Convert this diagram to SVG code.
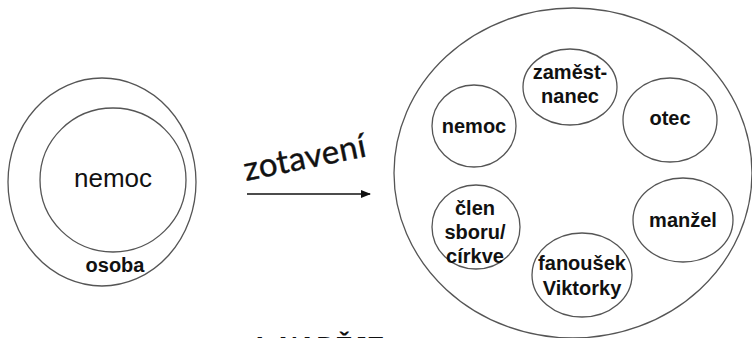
<svg xmlns="http://www.w3.org/2000/svg" width="752" height="338" viewBox="0 0 752 338">
<style>
.c{fill:none;stroke:#555;stroke-width:1.3}
.b{font-family:"Liberation Sans",Arial,sans-serif;font-weight:bold;font-size:20px;fill:#111;text-anchor:middle}
.r{font-family:"Liberation Sans",Arial,sans-serif;font-size:26px;fill:#111;text-anchor:middle}
</style>
<defs>
<marker id="ah" markerWidth="10" markerHeight="8" refX="9" refY="4" orient="auto" markerUnits="userSpaceOnUse">
<path d="M0,0 L10,4 L0,8 Z" fill="#111"/>
</marker>
</defs>
<rect width="752" height="338" fill="#fff"/>
<g id="osoba">
<ellipse class="c" cx="102" cy="182" rx="94" ry="104"/>
<text class="b" x="115" y="272">osoba</text>
</g>
<g id="nemoc-left">
<ellipse class="c" cx="113" cy="180" rx="73" ry="72"/>
<text class="r" x="113" y="187">nemoc</text>
</g>
<g id="connectors">
<line x1="247" y1="194" x2="370" y2="194" stroke="#111" stroke-width="1.3" marker-end="url(#ah)"/>
</g>
<text x="246" y="181" transform="rotate(-11.5 246 181)" font-family="Lato,'Liberation Sans',Arial,sans-serif" font-size="33" fill="#111" stroke="#111" stroke-width="0.4" textLength="124" lengthAdjust="spacing">zotavení</text>
<g id="celek">
<ellipse class="c" cx="573" cy="173" rx="179" ry="165"/>
</g>
<g id="zamestnanec">
<ellipse class="c" cx="570" cy="87" rx="47" ry="38"/>
<text class="b" x="570" y="79">zaměst-</text>
<text class="b" x="570" y="103">nanec</text>
</g>
<g id="otec">
<ellipse class="c" cx="670" cy="120" rx="47" ry="42"/>
<text class="b" x="670" y="125">otec</text>
</g>
<g id="nemoc">
<ellipse class="c" cx="474" cy="126" rx="42" ry="41"/>
<text class="b" x="474" y="133">nemoc</text>
</g>
<g id="clen">
<ellipse class="c" cx="476" cy="227" rx="44" ry="42"/>
<text class="b" x="475" y="215">člen</text>
<text class="b" x="475" y="239">sboru/</text>
<text class="b" x="475" y="263">církve</text>
</g>
<g id="manzel">
<ellipse class="c" cx="683" cy="220" rx="50" ry="42"/>
<text class="b" x="683" y="227">manžel</text>
</g>
<g id="fanousek">
<ellipse class="c" cx="582" cy="275" rx="50" ry="42"/>
<text class="b" x="582" y="270">fanoušek</text>
<text class="b" x="582" y="295">Viktorky</text>
</g>
<text x="250" y="355" font-family="'Liberation Sans',Arial,sans-serif" font-weight="bold" font-size="26" fill="#111">4. NADĚJE</text>
</svg>
